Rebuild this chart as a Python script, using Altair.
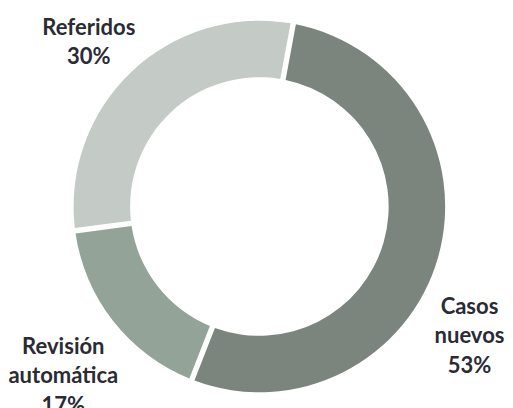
import math
import altair as alt
import pandas as pd

categories = ["Casos nuevos", "Revisión automática", "Referidos"]
values = [53, 17, 30]
labels = ["Casos\nnuevos\n53%", "Revisión\nautomática\n17%", "Referidos\n30%"]
colors = ["#7b857e", "#93a397", "#c4cac5"]

df = pd.DataFrame({
    "cat": categories,
    "value": values,
    "label": labels,
    "order": list(range(len(categories))),
})

start = math.radians(10.5)
theta_scale = alt.Scale(domain=[0, 100], range=[start, start + 2 * math.pi])
CX, CY = 252.5, 193

arcs = alt.Chart(df).mark_arc(radius=194, radius2=135, padAngle=0.024).encode(
    theta=alt.Theta("value:Q", stack=True, scale=theta_scale),
    order=alt.Order("order:Q"),
    color=alt.Color("cat:N", scale=alt.Scale(domain=categories, range=colors), legend=None),
    x=alt.value(CX),
    y=alt.value(CY),
)

offsets = {
    "Casos nuevos": (-21, 37),
    "Revisión automática": (-8, -7),
    "Referidos": (-6, -5),
}

text_base = alt.Chart(df).transform_window(
    cum="sum(value)", sort=[alt.SortField("order")]
).transform_calculate(
    mid="datum.cum - datum.value / 2"
)

layers = [arcs]
for cat in categories:
    dx, dy = offsets[cat]
    layers.append(
        text_base.transform_filter(alt.datum.cat == cat).mark_text(
            radius=250, font="Lato", fontSize=23, fontWeight="bold",
            color="#2a2b33", lineBreak="\n", lineHeight=30.5,
            align="center", baseline="middle", dx=dx, dy=dy,
        ).encode(
            theta=alt.Theta("mid:Q", stack=None, scale=theta_scale),
            text="label:N", x=alt.value(CX), y=alt.value(CY),
        )
    )

chart = alt.layer(*layers).properties(
    width=497, height=400, padding=0
).configure_view(stroke=None)

chart.save("out.html", embed_options={"renderer": "svg", "actions": False})
